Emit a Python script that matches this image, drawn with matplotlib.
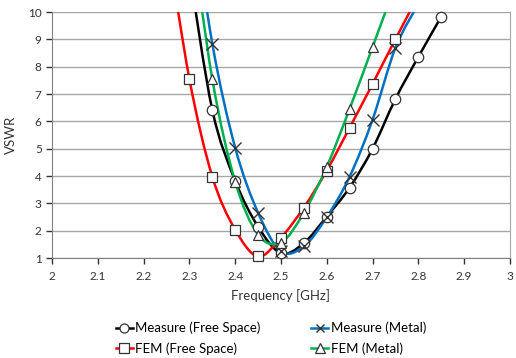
import numpy as np
import matplotlib
matplotlib.use("Agg")
import matplotlib.pyplot as plt
from matplotlib.path import Path
from matplotlib.patches import PathPatch
from matplotlib.lines import Line2D

plt.rcParams['font.family'] = ['Lato', 'DejaVu Sans']

# data (GHz, VSWR); points above 10 fall outside the plot
meas_fs_f = [2.30, 2.35, 2.40, 2.45, 2.50, 2.55, 2.60, 2.65, 2.70, 2.75, 2.80, 2.85]
meas_fs_v = [11.5, 6.42, 3.83, 2.15, 1.18, 1.55, 2.52, 3.58, 5.0, 6.82, 8.36, 9.83]

meas_mt_f = [2.30, 2.35, 2.40, 2.45, 2.50, 2.55, 2.60, 2.65, 2.70, 2.75, 2.80]
meas_mt_v = [14.5, 8.85, 5.04, 2.66, 1.25, 1.43, 2.5, 3.98, 6.06, 8.69, 10.3]

fem_fs_f = [2.25, 2.30, 2.35, 2.40, 2.45, 2.50, 2.55, 2.60, 2.65, 2.70, 2.75, 2.80]
fem_fs_v = [12.8, 7.55, 3.98, 2.04, 1.06, 1.75, 2.85, 4.2, 5.77, 7.37, 9.01, 10.6]

fem_mt_f = [2.30, 2.35, 2.40, 2.45, 2.50, 2.55, 2.60, 2.65, 2.70, 2.75]
fem_mt_v = [13.5, 7.55, 3.8, 1.86, 1.57, 2.66, 4.34, 6.46, 8.72, 11.0]

series = [
    ("Measure (Free Space)", meas_fs_f, meas_fs_v, "black", "o"),
    ("Measure (Metal)", meas_mt_f, meas_mt_v, "#0070C0", "x"),
    ("FEM (Free Space)", fem_fs_f, fem_fs_v, "#FF0000", "s"),
    ("FEM (Metal)", fem_mt_f, fem_mt_v, "#00B050", "^"),
]


def smooth_path(x, y):
    # excel-like smoothed line: bezier through the points
    p = np.column_stack([x, y])
    ext = np.vstack([p[0], p, p[-1]])
    verts = [tuple(p[0])]
    codes = [Path.MOVETO]
    for i in range(len(p) - 1):
        c1 = p[i] + (ext[i + 2] - ext[i]) / 6.
        c2 = p[i + 1] - (ext[i + 3] - ext[i + 1]) / 6.
        verts += [tuple(c1), tuple(c2), tuple(p[i + 1])]
        codes += [Path.CURVE4] * 3
    return Path(verts, codes)


fig = plt.figure(figsize=(5.16, 3.58), dpi=100)
ax = fig.add_axes([0.101, 0.279, 0.887, 0.687])

handles = []
for name, f, v, col, mk in series:
    ax.add_patch(PathPatch(smooth_path(f, v), fill=False, edgecolor=col, lw=1.8, zorder=3))
    v = np.ma.masked_greater(np.array(v), 10)
    if mk == "x":
        ax.plot(f, v, ls="none", marker="x", ms=8, mec="#333333", mew=1.0, zorder=4, clip_on=False)
        h = Line2D([], [], color=col, lw=1.8, marker="x", ms=6, mec="#333333", mew=1.0)
    else:
        ax.plot(f, v, ls="none", marker=mk, ms=7.5, mfc="white", mec="#333333", mew=0.9, zorder=4, clip_on=False)
        h = Line2D([], [], color=col, lw=1.8, marker=mk, ms=6.5, mfc="white", mec="#333333", mew=0.9)
    handles.append(h)

ax.set_xlim(2, 3)
ax.set_ylim(1, 10)
ax.set_xticks(np.arange(2, 3.01, 0.1))
ax.set_xticklabels(["2", "2.1", "2.2", "2.3", "2.4", "2.5", "2.6", "2.7", "2.8", "2.9", "3"])
ax.set_yticks(range(1, 11))
ax.grid(axis="y", color="#A6A6A6", lw=1.0)
ax.set_axisbelow(True)
ax.tick_params(labelsize=8.5, colors="#333333", length=4, width=1, direction="out")
ax.tick_params(axis="x", pad=5)
for s in ["left", "bottom"]:
    ax.spines[s].set_color("#808080")
ax.spines["right"].set_color("#A6A6A6")
ax.spines["top"].set_visible(False)
ax.set_xlabel("Frequency [GHz]", fontsize=9.5, color="#333333", labelpad=5)
ax.set_ylabel("VSWR", fontsize=9.5, color="#333333", labelpad=8)

fig.legend(handles=[handles[0], handles[2], handles[1], handles[3]],
           labels=[series[0][0], series[2][0], series[1][0], series[3][0]],
           ncol=2, loc="center", bbox_to_anchor=(0.525, 0.055), frameon=False,
           fontsize=9.5, handlelength=1.3, handletextpad=0.2, columnspacing=3.8,
           labelspacing=0.6, borderpad=0)

fig.savefig("out.png", dpi=100)
